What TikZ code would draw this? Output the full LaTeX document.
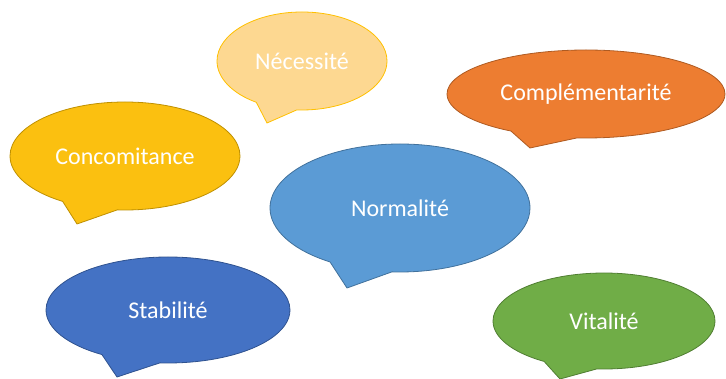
\documentclass[tikz,border=0pt]{standalone}
\usepackage{fontspec}
\setmainfont{Carlito}
\usepackage{tikz}
\usetikzlibrary{shapes.callouts}

\definecolor{necFill}{HTML}{FDD891}
\definecolor{necLine}{HTML}{FFC000}
\definecolor{conFill}{HTML}{FBC010}
\definecolor{conLine}{HTML}{BF9000}
\definecolor{comFill}{HTML}{ED7D31}
\definecolor{comLine}{HTML}{AE5A21}
\definecolor{norFill}{HTML}{5B9BD5}
\definecolor{norLine}{HTML}{41719C}
\definecolor{staFill}{HTML}{4472C4}
\definecolor{staLine}{HTML}{2F528F}
\definecolor{vitFill}{HTML}{70AD47}
\definecolor{vitLine}{HTML}{507E32}

\tikzset{
	bubble/.style={ellipse callout, callout pointer arc=29, inner sep=0pt, line width=0.8pt,
		text=white, font=\fontsize{24}{28}\selectfont},
}

\begin{document}
\begin{tikzpicture}[x=1pt,y=-1pt]
\useasboundingbox (0,0) rectangle (726,379);
% tips of the bubbles
\coordinate (necTip) at (267,123);
\coordinate (conTip) at (77,224);
\coordinate (comTip) at (530,148);
\coordinate (norTip) at (347,288);
\coordinate (staTip) at (117,377);
\coordinate (vitTip) at (560,379);

\node[bubble, fill=necFill, draw=necLine, minimum width=170pt, minimum height=98pt,
	callout absolute pointer={(necTip)}] (nec) at (302,61) {Nécessité};
\node[bubble, fill=conFill, draw=conLine, minimum width=230pt, minimum height=108pt,
	callout absolute pointer={(conTip)}] (con) at (125,156) {Concomitance};
\node[bubble, fill=comFill, draw=comLine, minimum width=278pt, minimum height=88pt,
	callout absolute pointer={(comTip)}] (com) at (586,94) {Complémentarité};
\node[bubble, fill=norFill, draw=norLine, minimum width=260pt, minimum height=128pt,
	callout absolute pointer={(norTip)}] (nor) at (400,208) {Normalité};
\node[bubble, fill=staFill, draw=staLine, minimum width=244pt, minimum height=106pt,
	callout absolute pointer={(staTip)}] (sta) at (168,310) {Stabilité};
\node[bubble, fill=vitFill, draw=vitLine, minimum width=222pt, minimum height=96pt,
	callout absolute pointer={(vitTip)}] (vit) at (604,321) {Vitalité};
\end{tikzpicture}
\end{document}
